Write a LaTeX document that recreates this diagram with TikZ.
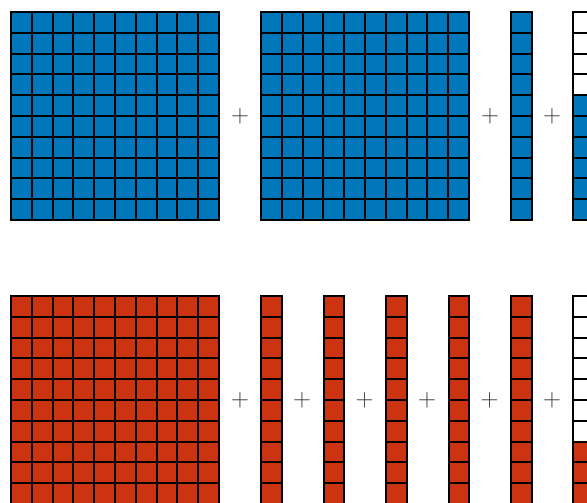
\documentclass[tikz,border=0pt]{standalone}
\definecolor{tolblue}{HTML}{0077BB}
\definecolor{tolred}{HTML}{CC3311}
\begin{document}
\begin{tikzpicture}[x=1pt,y=-1pt,
  cell/.style={draw=black,line width=2pt},
  plussign/.style={text=black!80,font=\fontsize{29}{29}\selectfont,inner sep=0pt}]
\useasboundingbox (0,0) rectangle (587,503);
\clip (0,0) rectangle (587,503);
\def\s{20.8}
% ---- top row ----
\foreach \x in {11,261}{
  \foreach \i in {0,...,9}{
    \foreach \j in {0,...,9}{
      \draw[cell,fill=tolblue] ({\x+\i*\s},{12+\j*\s}) rectangle ++(\s,\s);
    }
  }
}
\foreach \j in {0,...,9}{
  \draw[cell,fill=tolblue] (511,{12+\j*\s}) rectangle ++(\s,\s);
}
\foreach \j in {0,...,3}{
  \draw[cell,fill=white] (573,{12+\j*\s}) rectangle ++(\s,\s);
}
\foreach \j in {4,...,9}{
  \draw[cell,fill=tolblue] (573,{12+\j*\s}) rectangle ++(\s,\s);
}
\node[plussign] (pa) at (240,116.5) {$+$};
\node[plussign] (pb) at (490,116.5) {$+$};
\node[plussign] (pc) at (552,116.5) {$+$};
% ---- bottom row ----
\foreach \i in {0,...,9}{
  \foreach \j in {0,...,9}{
    \draw[cell,fill=tolred] ({11+\i*\s},{296+\j*\s}) rectangle ++(\s,\s);
  }
}
\foreach \x in {261,323.5,386,448.5,511}{
  \foreach \j in {0,...,9}{
    \draw[cell,fill=tolred] (\x,{296+\j*\s}) rectangle ++(\s,\s);
  }
}
\foreach \j in {0,...,6}{
  \draw[cell,fill=white] (573,{296+\j*\s}) rectangle ++(\s,\s);
}
\foreach \j in {7,...,9}{
  \draw[cell,fill=tolred] (573,{296+\j*\s}) rectangle ++(\s,\s);
}
\node[plussign] (pd) at (240,400.5) {$+$};
\node[plussign] (pe) at (302,400.5) {$+$};
\node[plussign] (pf) at (364.5,400.5) {$+$};
\node[plussign] (pg) at (427,400.5) {$+$};
\node[plussign] (ph) at (489.5,400.5) {$+$};
\node[plussign] (pi) at (552,400.5) {$+$};
\end{tikzpicture}
\end{document}
